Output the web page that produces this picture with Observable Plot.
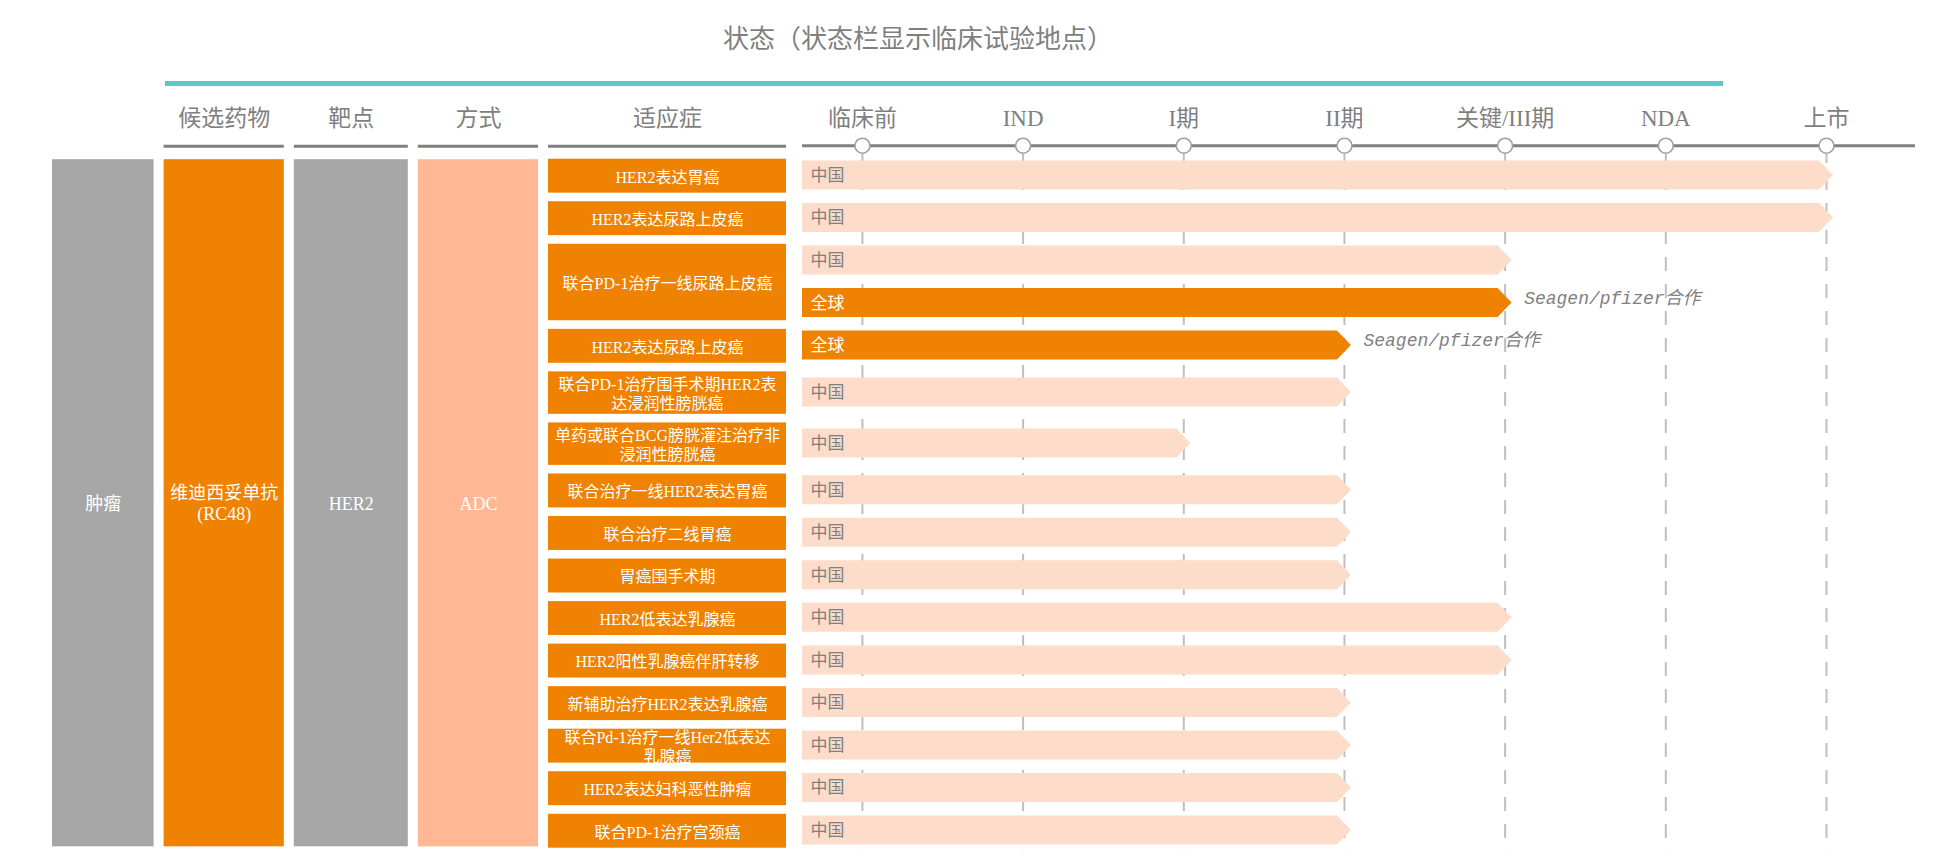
<!DOCTYPE html>
<html>
<head>
<meta charset="utf-8">
<script src="https://cdn.jsdelivr.net/npm/d3@7"></script>
<script src="https://cdn.jsdelivr.net/npm/@observablehq/plot@0.6"></script>
<style>
  body { margin: 0; background: #fff; font-family: "Liberation Serif", "Noto Sans CJK SC", sans-serif; }
  #page { position: relative; width: 1933px; height: 868px; overflow: hidden; }
  #head { position: relative; height: 90px; }
  #title { position: absolute; left: 918px; top: 26px; transform: translateX(-50%); font-size: 26px; line-height: 27px; color: #7f7f7f; white-space: nowrap; }
  #teal { position: absolute; left: 165px; top: 81px; width: 1558px; height: 5px; background: #5cc9c6; }
  #row { display: flex; height: 778px; }
  svg { display: block; }
</style>
</head>
<body>
<div id="page">
  <div id="head">
    <div id="title">状态（状态栏显示临床试验地点）</div>
    <div id="teal"></div>
  </div>
  <div id="row"></div>
</div>
<script>
// ---------- data ----------
const stages = ["临床前", "IND", "I期", "II期", "关键/III期", "NDA", "上市"];
const columnHeaders = ["", "候选药物", "靶点", "方式", "适应症"];
const category = "肿瘤";
const drug = "维迪西妥单抗\n(RC48)";
const target = "HER2";
const modality = "ADC";
const indications = [
  "HER2表达胃癌",
  "HER2表达尿路上皮癌",
  "联合PD-1治疗一线尿路上皮癌",
  "HER2表达尿路上皮癌",
  "联合PD-1治疗围手术期HER2表\n达浸润性膀胱癌",
  "单药或联合BCG膀胱灌注治疗非\n浸润性膀胱癌",
  "联合治疗一线HER2表达胃癌",
  "联合治疗二线胃癌",
  "胃癌围手术期",
  "HER2低表达乳腺癌",
  "HER2阳性乳腺癌伴肝转移",
  "新辅助治疗HER2表达乳腺癌",
  "联合Pd-1治疗一线Her2低表达\n乳腺癌",
  "HER2表达妇科恶性肿瘤",
  "联合PD-1治疗宫颈癌"
];
const trialIndication = [0, 1, 2, 2, 3, 4, 5, 6, 7, 8, 9, 10, 11, 12, 13, 14];
const trialRegion = ["中国", "中国", "中国", "全球", "全球", "中国", "中国", "中国", "中国", "中国", "中国", "中国", "中国", "中国", "中国", "中国"];
const trialStage = ["上市", "上市", "关键/III期", "关键/III期", "II期", "II期", "I期", "II期", "II期", "II期", "关键/III期", "关键/III期", "II期", "II期", "II期", "II期"];
const trialPartner = ["", "", "", "Seagen/pfizer合作", "Seagen/pfizer合作", "", "", "", "", "", "", "", "", "", "", ""];

// ---------- layout & styles ----------
const FONT = '"Liberation Serif", "Noto Sans CJK SC", sans-serif';
const ORANGE = "#ef8200", GRAY = "#a6a6a6", PEACH = "#ffb794", LIGHT = "#fddcc9";
const TEXT = "#7f7f7f";
const colWidths = [0.9, 1.05, 1, 1.05, 2];                                   // relative column widths
const laneWeights = [1, 1, 1, 1, 1, 1.2, 1.2, 1, 1, 1, 1, 1, 1, 1, 1, 1];   // relative row heights
const BAR_H = 29;

// ---------- derived tables ----------
const edges = Array.from(d3.cumsum([0, ...laneWeights]));
const lanes = trialIndication.map((ind, i) => ({
  lane: i, ind, y1: edges[i], y2: edges[i + 1],
  region: trialRegion[i], stage: stages.indexOf(trialStage[i]), partner: trialPartner[i]
}));
const yTotal = edges[lanes.length];
let acc = 0;
const cols = columnHeaders.map((label, i) => { const c = {label, x1: acc, x2: acc + colWidths[i]}; acc += colWidths[i]; return c; });
const tallLabels = [category, drug, target, modality];
const tallColors = [GRAY, ORANGE, GRAY, PEACH];
const tall = tallLabels.map((label, i) => ({label, x1: cols[i].x1, x2: cols[i].x2, color: tallColors[i]}));
const indCol = cols[4];
const boxes = indications.map((name, k) => {
  const ls = lanes.filter(d => d.ind === k);
  return {name, y1: ls[0].y1, y2: ls[ls.length - 1].y2};
});

const H = 778, mTop = 63.7, mBottom = 16.7;

// ---------- left: table ----------
const left = Plot.plot({
  width: 802, height: H,
  marginLeft: 47, marginRight: 11, marginTop: mTop, marginBottom: mBottom,
  x: {domain: [0, acc], axis: null},
  y: {domain: [0, yTotal], reverse: true, axis: null},
  color: {type: "identity"},
  style: {fontFamily: FONT, background: "transparent", overflow: "visible"},
  marks: [
    Plot.rect(tall, {x1: "x1", x2: "x2", y1: 0, y2: yTotal, fill: "color", insetLeft: 5, insetRight: 5, insetTop: 5.5, insetBottom: 5}),
    Plot.text(tall, {x: d => (d.x1 + d.x2) / 2, y: yTotal / 2, text: "label", fill: "white", fontSize: 18, lineHeight: 1.17}),
    Plot.rect(boxes, {x1: indCol.x1, x2: indCol.x2, y1: "y1", y2: "y2", fill: ORANGE, insetLeft: 5, insetRight: 5, insetTop: 5, insetBottom: 3.6}),
    Plot.text(boxes, {x: (indCol.x1 + indCol.x2) / 2, y: d => (d.y1 + d.y2) / 2, dy: 0.7, text: "name", fill: "white", fontSize: 16, lineHeight: 1.24}),
    Plot.ruleY(cols.filter(d => d.label), {x1: "x1", x2: "x2", y: 0, dy: -8, stroke: "#7f7f7f", strokeWidth: 3, insetLeft: 5, insetRight: 5}),
    Plot.text(cols.filter(d => d.label), {x: d => (d.x1 + d.x2) / 2, y: 0, dy: -36, text: "label", fill: TEXT, fontSize: 23})
  ]
});

// ---------- right: timeline ----------
const xTrack = [-0.373, 6.554];
function arrowMark(data, color) {
  return Plot.rect(data, {
    x1: xTrack[0], x2: "stage", y1: "y1", y2: "y2", fill: color,
    render(index, scales, values) {
      const g = d3.create("svg:g");
      for (const i of index) {
        const x0 = values.x1[i], xs = values.x2[i];
        const mid = (values.y1[i] + values.y2[i]) / 2;
        const top = mid - BAR_H / 2, bot = mid + BAR_H / 2;
        const bodyEnd = xs - 7, tip = xs + 7;
        g.append("path")
          .attr("d", `M${x0},${top}H${bodyEnd}L${tip},${mid}L${bodyEnd},${bot}H${x0}Z`)
          .attr("fill", color);
      }
      return g.node();
    }
  });
}

const china = lanes.filter(d => d.region === "中国");
const global = lanes.filter(d => d.region === "全球");
const laneMid = d => (d.y1 + d.y2) / 2;

const right = Plot.plot({
  width: 1113, height: H,
  marginLeft: 0, marginRight: 0, marginTop: mTop, marginBottom: mBottom,
  x: {domain: xTrack, axis: null},
  y: {domain: [0, yTotal], reverse: true, axis: null},
  style: {fontFamily: FONT, background: "transparent", overflow: "visible"},
  marks: [
    Plot.ruleX(stages, {x: (d, i) => i, y1: 0, y2: yTotal, stroke: "#bfbfbf", strokeWidth: 2, strokeDasharray: "14,13", strokeDashoffset: 4.7}),
    Plot.ruleY([0], {dy: -8.5, stroke: "#808080", strokeWidth: 3}),
    Plot.dot(stages, {x: (d, i) => i, y: 0, dy: -8.5, r: 7.5, fill: "white", stroke: "#a0a0a0", strokeWidth: 1.6}),
    Plot.text(stages, {x: (d, i) => i, y: 0, dy: -36, text: d => d, fill: TEXT, fontSize: 23}),
    arrowMark(china, LIGHT),
    arrowMark(global, ORANGE),
    Plot.text(china, {y: laneMid, frameAnchor: "left", dx: 8, textAnchor: "start", text: "region", fill: TEXT, fontSize: 17}),
    Plot.text(global, {y: laneMid, frameAnchor: "left", dx: 8, textAnchor: "start", text: "region", fill: "white", fontSize: 17}),
    Plot.text(lanes.filter(d => d.partner), {x: "stage", y: laneMid, dx: 19, dy: -5, textAnchor: "start", text: "partner", fill: TEXT, fontSize: 18, fontStyle: "italic", fontFamily: '"Liberation Mono", "Noto Sans CJK SC", monospace'})
  ]
});

const row = document.getElementById("row");
row.appendChild(left);
row.appendChild(right);
</script>
</body>
</html>
